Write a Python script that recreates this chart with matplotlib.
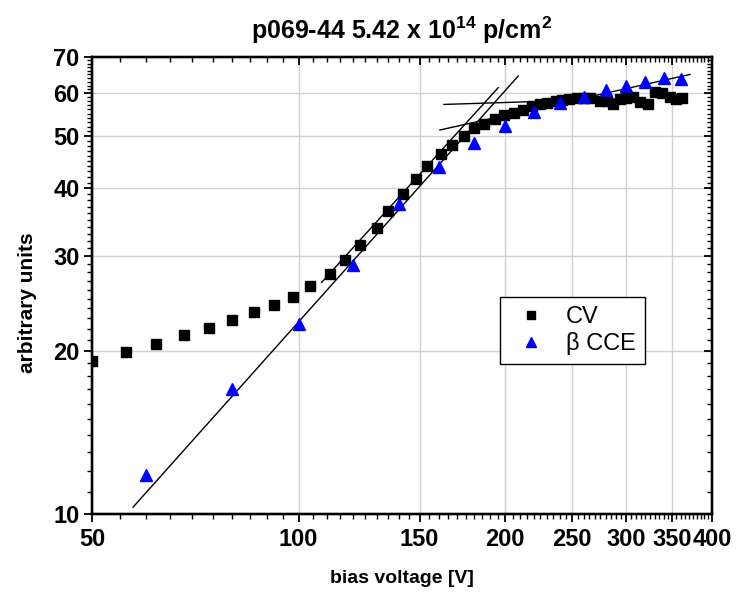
import numpy as np
import matplotlib
matplotlib.use("Agg")
import matplotlib.pyplot as plt
from matplotlib.ticker import FixedLocator, NullFormatter, FixedFormatter
from matplotlib import font_manager

# ---------------- data ----------------
cv_voltage = [50, 56, 62, 68, 74, 80, 86, 92, 98, 104, 111, 117, 123, 130,
              135, 142, 148, 154, 161, 167, 174, 180, 186, 193, 199, 206,
              212, 219, 225, 230, 237, 242, 248, 254, 260, 266, 275, 281,
              287, 294, 300, 307, 314, 323, 330, 338, 347, 355, 362]
cv_signal = [19.2, 19.9, 20.6, 21.4, 22.1, 22.8, 23.6, 24.4, 25.2, 26.4,
             27.8, 29.5, 31.4, 33.8, 36.4, 39.1, 41.7, 44.1, 46.3, 48.2,
             49.9, 51.7, 52.6, 53.7, 54.6, 55.2, 55.9, 56.8, 57.2, 57.5,
             58.0, 58.3, 58.6, 58.8, 58.9, 58.8, 58.0, 58.0, 57.3, 58.5,
             58.8, 59.1, 57.8, 57.3, 60.2, 60.0, 59.1, 58.5, 58.8]

cce_voltage = [60, 80, 100, 120, 140, 160, 180, 200, 220, 240, 260, 280,
               300, 320, 340, 360]
cce_signal = [11.8, 17.0, 22.5, 28.9, 37.4, 43.9, 48.6, 52.2, 55.5, 57.5,
              59.1, 60.8, 62.0, 62.9, 64.1, 63.8]

# straight-line fits in log-log space: (x_start, x_end, x_anchor, y_anchor, slope)
fit_cce_rise = (57.4, 208.9, 57.4, 10.3, 1.421)
fit_cv_rise = (108.0, 195.3, 157.1, 45.3, 1.40)
fit_cv_plateau = (162.8, 290.0, 162.8, 57.2, 0.04)
fit_cce_plateau = (160.6, 371.5, 160.6, 51.3, 0.282)

x_ticks = [50, 100, 150, 200, 250, 300, 350, 400]
y_ticks = [10, 20, 30, 40, 50, 60, 70]

title = "p069-44 5.42 x 10$^{14}$ p/cm$^2$"
x_label = "bias voltage [V]"
y_label = "arbitrary units"

# ---------------- fonts ----------------
available = {f.name for f in font_manager.fontManager.ttflist}
bold_family = [f for f in ["Liberation Sans", "DejaVu Sans"] if f in available]
reg_family = [f for f in ["Liberation Sans", "DejaVu Sans"] if f in available]
plt.rcParams['font.family'] = reg_family
plt.rcParams['mathtext.fontset'] = 'custom'
plt.rcParams['mathtext.rm'] = bold_family[0] + ':bold'
plt.rcParams['mathtext.it'] = bold_family[0] + ':bold'
plt.rcParams['mathtext.bf'] = bold_family[0] + ':bold'

fig = plt.figure(figsize=(7.44, 6.0), dpi=100)
ax = fig.add_axes([92/744, 1-514/600, 620/744, 457/600])

ax.set_xscale('log')
ax.set_yscale('log')
ax.set_xlim(50, 400)
ax.set_ylim(10, 70)

# grid
ax.set_axisbelow(True)
ax.grid(True, which='major', color='#d0d0d0', linewidth=1.0)

# fit lines
for xs, xe, xa, ya, k in [fit_cce_rise, fit_cv_rise, fit_cv_plateau, fit_cce_plateau]:
    xx = np.array([xs, xe])
    yy = ya * (xx / xa) ** k
    ax.plot(xx, yy, color='black', linewidth=1.0, zorder=2)

ax.plot(cv_voltage, cv_signal, linestyle='none', marker='s', markersize=7,
        color='black', label='CV', zorder=3)
ax.plot(cce_voltage, cce_signal, linestyle='none', marker='^', markersize=8.5,
        color='#0000ff', label='β CCE', zorder=3)

minor_x = [v for v in range(55, 400, 5) if v not in x_ticks]
minor_y = [v for v in range(11, 70) if v not in y_ticks]

tick_fp = font_manager.FontProperties(family=bold_family, weight='bold', size=17)

ax.xaxis.set_major_locator(FixedLocator(x_ticks))
ax.xaxis.set_major_formatter(FixedFormatter([str(v) for v in x_ticks]))
ax.xaxis.set_minor_locator(FixedLocator(minor_x))
ax.xaxis.set_minor_formatter(NullFormatter())
ax.yaxis.set_major_locator(FixedLocator(y_ticks))
ax.yaxis.set_major_formatter(FixedFormatter([str(v) for v in y_ticks]))
ax.yaxis.set_minor_locator(FixedLocator(minor_y))
ax.yaxis.set_minor_formatter(NullFormatter())

ax.tick_params(which='major', direction='out', length=6, width=1.3, pad=3)
ax.tick_params(which='minor', direction='out', length=3.5, width=1.0)
ax.tick_params(axis='x', which='major', pad=4)
for lab in ax.get_xticklabels() + ax.get_yticklabels():
    lab.set_fontproperties(tick_fp)

for sp in ax.spines.values():
    sp.set_linewidth(1.6)

# mirrored inward ticks on top and right
axt = ax.twiny()
axt.set_xscale('log')
axt.set_xlim(ax.get_xlim())
axt.xaxis.set_major_locator(FixedLocator(x_ticks))
axt.xaxis.set_minor_locator(FixedLocator(minor_x))
axt.xaxis.set_major_formatter(NullFormatter())
axt.xaxis.set_minor_formatter(NullFormatter())
axt.tick_params(which='major', direction='in', length=6, width=1.3)
axt.tick_params(which='minor', direction='in', length=3.5, width=1.0)

axr = ax.twinx()
axr.set_yscale('log')
axr.set_ylim(ax.get_ylim())
axr.yaxis.set_major_locator(FixedLocator(y_ticks))
axr.yaxis.set_minor_locator(FixedLocator(minor_y))
axr.yaxis.set_major_formatter(NullFormatter())
axr.yaxis.set_minor_formatter(NullFormatter())
axr.tick_params(which='major', direction='in', length=6, width=1.3)
axr.tick_params(which='minor', direction='in', length=3.5, width=1.0)
for a in (axt, axr):
    for sp in a.spines.values():
        sp.set_linewidth(1.6)

ax.set_xlabel(x_label, fontproperties=font_manager.FontProperties(
    family=bold_family, weight='bold', size=14), labelpad=14)
ax.set_ylabel(y_label, fontproperties=font_manager.FontProperties(
    family=bold_family, weight='bold', size=15))
ax.yaxis.set_label_coords(-0.089, 0.462)
fig.text(402/744, 1-30/600, title, ha='center', va='center',
         fontproperties=font_manager.FontProperties(family=bold_family, weight='bold', size=18))

leg = ax.legend(loc='upper left', bbox_to_anchor=((500-92)/620, (514-297)/457),
                borderaxespad=0, frameon=True, fancybox=False, edgecolor='black',
                framealpha=1, numpoints=1, handlelength=1.85, handletextpad=0.55,
                borderpad=0.4, labelspacing=0.15, markerscale=0.9,
                prop=font_manager.FontProperties(family=reg_family, size=17))
leg.get_frame().set_linewidth(1.0)
leg.set_zorder(10)

fig.savefig('out.png', dpi=100)
